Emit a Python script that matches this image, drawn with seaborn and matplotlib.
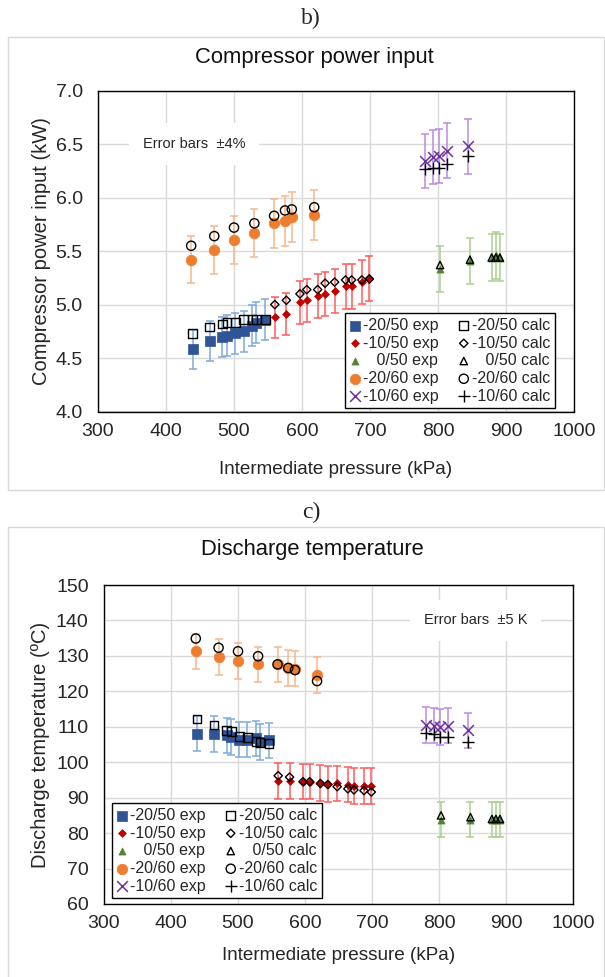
import matplotlib
matplotlib.use("Agg")
import matplotlib.pyplot as plt
from matplotlib.patches import Rectangle
import seaborn as sns
import numpy as np

sns.set_style("white")
plt.rcParams['font.family'] = ['Liberation Sans', 'DejaVu Sans']

# ---------------- data ----------------
series_names = ["-20/50", "-10/50", "0/50", "-20/60", "-10/60"]
legend_exp = ["-20/50 exp", "-10/50 exp", "   0/50 exp", "-20/60 exp", "-10/60 exp"]
legend_calc = ["-20/50 calc", "-10/50 calc", "   0/50 calc", "-20/60 calc", "-10/60 calc"]

blue_x = [439, 464, 483, 490, 502, 514, 527, 533, 546]
red_x = [560, 577, 597, 607, 623, 634, 648, 664, 673, 688, 699]
green_x = [803, 847, 879, 885, 891]
orange_x = [437, 471, 500, 530, 559, 575, 585, 618]
purple_x = [781, 792, 802, 813, 844]

# Compressor power input (kW)
blue_pw_exp = [4.58, 4.66, 4.70, 4.71, 4.73, 4.75, 4.80, 4.83, 4.86]
blue_pw_calc = [4.73, 4.79, 4.82, 4.83, 4.83, 4.86, 4.86, 4.86, 4.86]
red_pw_exp = [4.88, 4.91, 5.02, 5.04, 5.08, 5.10, 5.13, 5.17, 5.17, 5.21, 5.24]
red_pw_calc = [5.00, 5.04, 5.10, 5.14, 5.14, 5.20, 5.21, 5.23, 5.23, 5.23, 5.24]
green_pw_exp = [5.33, 5.41, 5.44, 5.46, 5.44]
green_pw_calc = [5.37, 5.42, 5.44, 5.44, 5.44]
orange_pw_exp = [5.42, 5.51, 5.60, 5.67, 5.76, 5.78, 5.82, 5.84]
orange_pw_calc = [5.55, 5.64, 5.72, 5.76, 5.83, 5.88, 5.89, 5.91]
purple_pw_exp = [6.34, 6.38, 6.39, 6.44, 6.48]
purple_pw_calc = [6.27, 6.28, 6.28, 6.31, 6.39]

# Discharge temperature (ºC)
blue_t_exp = [108.1, 107.9, 107.6, 107.1, 106.4, 106.4, 106.7, 105.7, 106.2]
blue_t_calc = [112.2, 110.5, 108.9, 108.6, 107.3, 106.9, 105.9, 105.6, 105.3]
red_t_exp = [94.7, 94.7, 94.5, 94.5, 94.1, 93.8, 94.0, 93.7, 93.3, 93.3, 93.3]
red_t_calc = [96.2, 95.8, 94.5, 94.5, 94.0, 93.7, 93.1, 92.5, 92.2, 92.0, 91.6]
green_t_exp = [83.8, 83.8, 83.8, 83.8, 83.8]
green_t_calc = [85.0, 84.5, 84.0, 84.0, 84.0]
orange_t_exp = [131.3, 129.7, 128.6, 127.6, 127.6, 126.6, 126.4, 124.6]
orange_t_calc = [134.9, 132.3, 131.3, 129.9, 127.6, 126.6, 126.0, 122.9]
purple_t_exp = [110.5, 110.3, 110.0, 110.3, 109.0]
purple_t_calc = [108.3, 108.1, 107.2, 107.2, 105.8]

x_ticks = [300, 400, 500, 600, 700, 800, 900, 1000]
pw_ticks = [4.0, 4.5, 5.0, 5.5, 6.0, 6.5, 7.0]
t_ticks = [60, 70, 80, 90, 100, 110, 120, 130, 140, 150]

# ---------------- styles ----------------
styles = [
    dict(m="s", c="#2F5597", s=52, ec="#7EABDB", cm="s", cs=38),
    dict(m="D", c="#C00000", s=16, ec="#FF5B5B", cm="D", cs=18),
    dict(m="^", c="#548235", s=26, ec="#A9D18E", cm="^", cs=28),
    dict(m="o", c="#ED7D31", s=58, ec="#F7B88C", cm="o", cs=44),
    dict(m="x", c="#7030A0", s=60, ec="#B98BE3", cm="+", cs=64),
]

xs_all = [blue_x, red_x, green_x, orange_x, purple_x]

fig = plt.figure(figsize=(6.05, 9.77), dpi=100)
W, H = 605.0, 977.0

def fx(px):
    return px / W

def fy(py):
    return 1 - py / H

# panel frames
fig.patches.append(Rectangle((fx(8), fy(490)), fx(604) - fx(8), fy(37) - fy(490),
                             transform=fig.transFigure, fill=False,
                             edgecolor="#d9d9d9", lw=1.0, zorder=0))
fig.patches.append(Rectangle((fx(8), fy(1000)), fx(604) - fx(8), fy(527) - fy(1000),
                             transform=fig.transFigure, fill=False,
                             edgecolor="#d9d9d9", lw=1.0, zorder=0))

fig.text(fx(311), fy(18), "b)", family="Liberation Serif", fontsize=17,
         ha="center", va="center")
fig.text(fx(311), fy(512), "c)", family="Liberation Serif", fontsize=17,
         ha="center", va="center")
fig.text(fx(314), fy(57), "Compressor power input", fontsize=15.8,
         ha="center", va="center", color="#111111")
fig.text(fx(312), fy(550), "Discharge temperature", fontsize=15.8,
         ha="center", va="center", color="#111111")

ax1 = fig.add_axes([fx(98), fy(411.5), fx(574) - fx(98), fy(90.7) - fy(411.5)])
ax2 = fig.add_axes([fx(104), fy(904), fx(573) - fx(104), fy(585) - fy(904)])


def draw(ax, exp_list, calc_list, errfun):
    hexp, hcalc = [], []
    for i, (xs, ye, yc) in enumerate(zip(xs_all, exp_list, calc_list)):
        st = styles[i]
        err = errfun(np.array(ye))
        ax.errorbar(xs, ye, yerr=err, fmt="none", ecolor=st["ec"],
                    elinewidth=1.1, capsize=2.8, capthick=1.1, zorder=2)
    for i, (xs, ye, yc) in enumerate(zip(xs_all, exp_list, calc_list)):
        st = styles[i]
        if st["m"] == "x":
            sns.scatterplot(x=xs, y=ye, marker="x", color=st["c"], s=st["s"],
                            linewidth=1.1, ax=ax, zorder=3, legend=False)
        else:
            sns.scatterplot(x=xs, y=ye, marker=st["m"], color=st["c"],
                            edgecolor=st["c"], s=st["s"], linewidth=0.5,
                            ax=ax, zorder=3, legend=False)
        hexp.append(ax.collections[-1])
        if st["cm"] == "+":
            sns.scatterplot(x=xs, y=yc, marker="+", color="black", s=st["cs"],
                            linewidth=1.0, ax=ax, zorder=4, legend=False)
        else:
            sns.scatterplot(x=xs, y=yc, marker=st["cm"], facecolor="none",
                            edgecolor="black", s=st["cs"], linewidth=1.0,
                            ax=ax, zorder=4, legend=False)
        hcalc.append(ax.collections[-1])
    return hexp, hcalc


def style_axes(ax, yticks, fmt, ylabel):
    ax.set_xlim(300, 1000)
    ax.set_ylim(yticks[0], yticks[-1])
    ax.set_xticks(x_ticks)
    ax.set_yticks(yticks)
    ax.set_yticklabels([fmt.format(v) for v in yticks])
    ax.grid(True, color="#d9d9d9", lw=1.0, zorder=0)
    ax.set_axisbelow(True)
    for sp in ax.spines.values():
        sp.set_color("black")
        sp.set_linewidth(1.0)
        sp.set_visible(True)
    ax.tick_params(axis="both", length=0, labelsize=14, colors="#262626")
    ax.tick_params(axis="x", pad=8)
    ax.tick_params(axis="y", pad=11)
    ax.set_xlabel("Intermediate pressure (kPa)", fontsize=13.6, color="#262626")
    ax.set_ylabel(ylabel, fontsize=14.5, color="#262626")


h1e, h1c = draw(ax1, [blue_pw_exp, red_pw_exp, green_pw_exp, orange_pw_exp, purple_pw_exp],
                [blue_pw_calc, red_pw_calc, green_pw_calc, orange_pw_calc, purple_pw_calc],
                lambda y: 0.04 * y)
h2e, h2c = draw(ax2, [blue_t_exp, red_t_exp, green_t_exp, orange_t_exp, purple_t_exp],
                [blue_t_calc, red_t_calc, green_t_calc, orange_t_calc, purple_t_calc],
                lambda y: 5.0 * np.ones_like(y))

style_axes(ax1, pw_ticks, "{:.1f}", "Compressor power input (kW)")
style_axes(ax2, t_ticks, "{:d}", "Discharge temperature (ºC)")

ax1.xaxis.set_label_coords(0.5, -0.155)
ax2.xaxis.set_label_coords(0.5, -0.135)
ax1.yaxis.set_label_coords(-(98 - 51) / 476, 0.5)
ax2.yaxis.set_label_coords(-(104 - 50) / 469, 0.5)

ax1.text(441, 6.5, "Error bars  ±4%", fontsize=10.5, ha="center", va="center",
         color="#262626", zorder=1.5,
         bbox=dict(facecolor="white", edgecolor="none", pad=10))
ax2.text(855, 140, "Error bars  ±5 K", fontsize=10.5, ha="center", va="center",
         color="#262626", zorder=1.5,
         bbox=dict(facecolor="white", edgecolor="none", pad=10))


def make_legend(ax, he, hc, anchor):
    leg = ax.legend(he + hc, legend_exp + legend_calc, ncol=2, loc="upper left",
                    bbox_to_anchor=anchor, bbox_transform=fig.transFigure,
                    fontsize=11.5, frameon=True, fancybox=False,
                    edgecolor="black", framealpha=1, borderpad=0.3,
                    labelspacing=0.17, handlelength=0.7, handletextpad=0.15,
                    columnspacing=1.2, borderaxespad=0, scatterpoints=1)
    leg.get_frame().set_linewidth(1.0)
    leg.set_zorder(10)
    for t in leg.get_texts():
        t.set_color("#262626")
    return leg


make_legend(ax1, h1e, h1c, (fx(345), fy(313)))
make_legend(ax2, h2e, h2c, (fx(112), fy(803)))

fig.savefig("out.png", dpi=100)
